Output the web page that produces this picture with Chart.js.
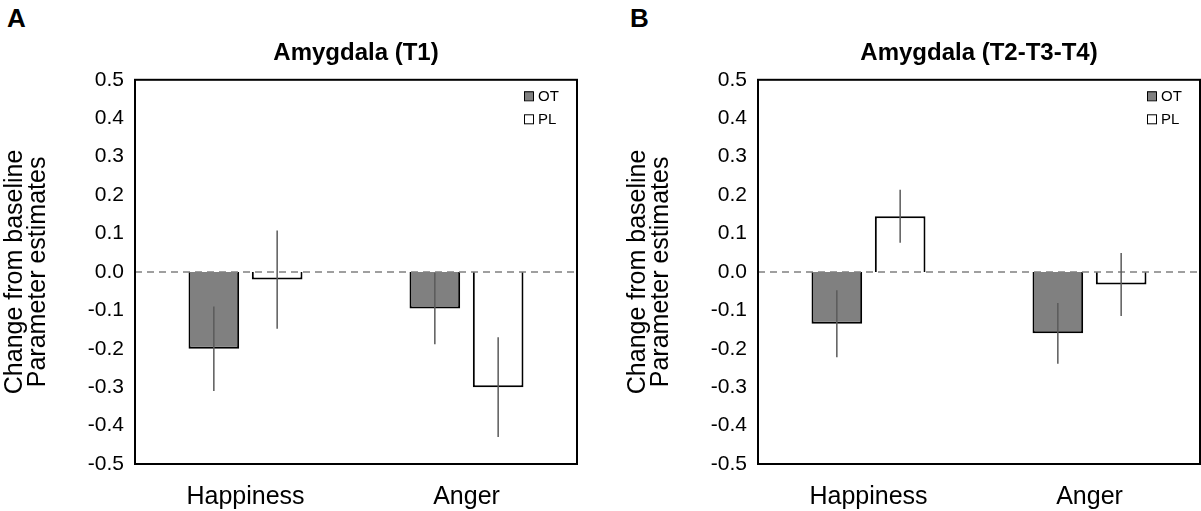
<!DOCTYPE html>
<html>
<head>
<meta charset="utf-8">
<script src="https://cdn.jsdelivr.net/npm/chart.js@4.4.0/dist/chart.umd.min.js"></script>
<style>
  html, body { margin: 0; padding: 0; background: #fff; }
  #wrap { position: relative; width: 1201px; height: 511px; overflow: hidden; }
  .panel { position: absolute; top: 0; width: 578px; height: 511px; }
  .tag { position: absolute; top: 3px; font: bold 26px 'Liberation Sans', Arial, sans-serif; color: #000; }
</style>
</head>
<body>
<div id="wrap">
  <div class="tag" style="left:7px">A</div>
  <div class="panel" style="left:0"><canvas id="chartA"></canvas></div>
  <div class="tag" style="left:630px">B</div>
  <div class="panel" style="left:623px"><canvas id="chartB"></canvas></div>
</div>
<script>
// categories and groups
const categories = ['Happiness', 'Anger'];
const groups = ['OT', 'PL'];
const yTickLabels = ['-0.5', '-0.4', '-0.3', '-0.2', '-0.1', '0.0', '0.1', '0.2', '0.3', '0.4', '0.5'];

// panel A: Amygdala (T1)
const t1OT = [-0.20, -0.095];
const t1PL = [-0.02, -0.30];
const t1OTErr = [0.11, 0.093];
const t1PLErr = [0.128, 0.13];

// panel B: Amygdala (T2-T3-T4)
const t234OT = [-0.135, -0.16];
const t234PL = [0.145, -0.033];
const t234OTErr = [0.087, 0.079];
const t234PLErr = [0.069, 0.082];

Chart.defaults.font.family = "'Liberation Sans', Arial, sans-serif";
Chart.defaults.color = '#000';

// zero line, error bars, box round the plot, small legend
const framePlugin = {
    id: 'frame',
    afterDatasetsDraw(chart) {
        const { ctx, chartArea: a, scales: { y } } = chart;
        const y0 = y.getPixelForValue(0);
        ctx.save();
        ctx.strokeStyle = '#808080';
        ctx.lineWidth = 1.5;
        ctx.setLineDash([7, 5]);
        ctx.beginPath();
        ctx.moveTo(a.left, y0);
        ctx.lineTo(a.right, y0);
        ctx.stroke();
        ctx.setLineDash([]);

        ctx.strokeStyle = '#5a5a5a';
        ctx.lineWidth = 1.5;
        chart.data.datasets.forEach((ds, i) => {
            chart.getDatasetMeta(i).data.forEach((bar, j) => {
                const v = ds.data[j], e = ds.errors[j];
                ctx.beginPath();
                ctx.moveTo(bar.x, y.getPixelForValue(v + e));
                ctx.lineTo(bar.x, y.getPixelForValue(v - e));
                ctx.stroke();
            });
        });

        ctx.strokeStyle = '#000';
        ctx.lineWidth = 2;
        ctx.strokeRect(a.left, a.top, a.width, a.height);

        ctx.font = "15px 'Liberation Sans', Arial, sans-serif";
        ctx.textBaseline = 'middle';
        ctx.lineWidth = 1;
        chart.data.datasets.forEach((ds, i) => {
            const cy = a.top + 16 + i * 23;
            const bx = a.right - 53;
            ctx.fillStyle = ds.backgroundColor;
            ctx.fillRect(bx, cy - 4.5, 9, 9);
            ctx.strokeStyle = '#000';
            ctx.strokeRect(bx + 0.5, cy - 4, 9, 9);
            ctx.fillStyle = '#000';
            ctx.fillText(ds.label, bx + 14, cy + 1);
        });
        ctx.restore();
    }
};

function makeChart(id, title, ot, pl, otErr, plErr) {
    new Chart(document.getElementById(id), {
        type: 'bar',
        data: {
            labels: categories,
            datasets: [
                { label: groups[0], data: ot, errors: otErr, backgroundColor: '#808080' },
                { label: groups[1], data: pl, errors: plErr, backgroundColor: '#ffffff' }
            ]
        },
        options: {
            responsive: true,
            maintainAspectRatio: false,
            animation: false,
            events: [],
            layout: { padding: { top: 8, right: 1, bottom: 0, left: 0 } },
            datasets: {
                bar: {
                    borderColor: '#000',
                    borderWidth: 2,
                    categoryPercentage: 0.573,
                    barPercentage: 0.8
                }
            },
            scales: {
                x: {
                    grid: { display: false, drawTicks: false },
                    border: { display: false },
                    ticks: { font: { size: 25 }, padding: 18 },
                    afterFit: s => { s.height = 47; }
                },
                y: {
                    min: -0.5,
                    max: 0.5,
                    grid: { display: false, drawTicks: false },
                    border: { display: false },
                    ticks: {
                        stepSize: 0.1,
                        font: { size: 21 },
                        padding: 11,
                        callback: (v, i) => yTickLabels[i]
                    },
                    title: {
                        display: true,
                        text: ['Change from baseline', 'Parameter estimates'],
                        font: { size: 25, lineHeight: 0.9 },
                        padding: { top: 4, bottom: 0 }
                    },
                    afterFit: s => { s.width = 135; }
                }
            },
            plugins: {
                legend: { display: false },
                tooltip: { enabled: false },
                title: {
                    display: true,
                    text: title,
                    fullSize: false,
                    font: { size: 24, weight: 'bold', lineHeight: 1.2 },
                    padding: { top: 31, bottom: 12 }
                }
            }
        },
        plugins: [framePlugin]
    });
}

makeChart('chartA', 'Amygdala (T1)', t1OT, t1PL, t1OTErr, t1PLErr);
makeChart('chartB', 'Amygdala (T2-T3-T4)', t234OT, t234PL, t234OTErr, t234PLErr);
</script>
</body>
</html>
